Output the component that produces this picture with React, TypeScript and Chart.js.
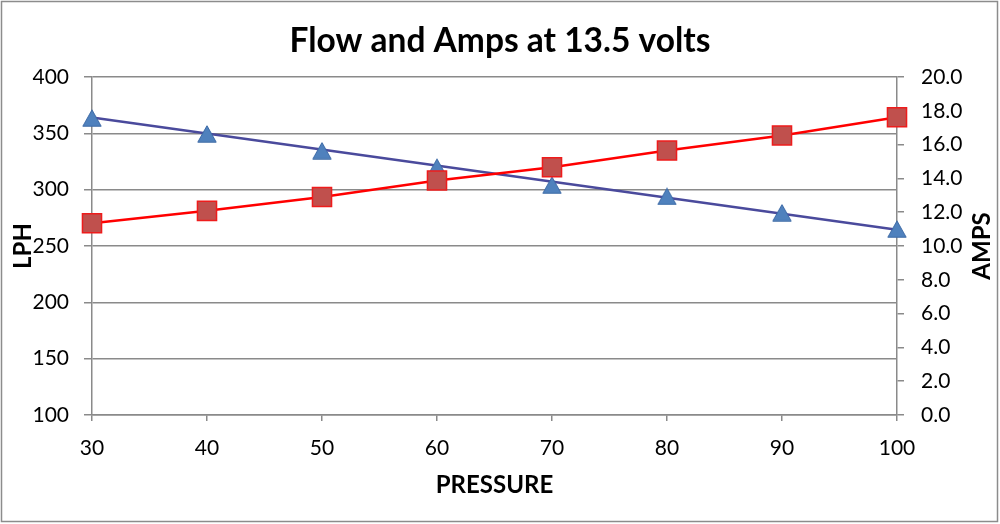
import React, { useEffect, useRef } from "react";
import { Chart, registerables } from "chart.js";

Chart.register(...registerables);

// ---- data ----
const pressure = [30, 40, 50, 60, 70, 80, 90, 100];
const lphValues = [363.5, 349.5, 334.5, 320, 304, 294, 279.5, 265];
const ampsValues = [11.35, 12.08, 12.9, 13.88, 14.66, 15.65, 16.54, 17.62];
const lphTrendPressure = [30, 100];
const lphTrendValues = [364, 264.5];
const lphTicks = { min: 100, max: 400, step: 50 };
const ampsTicks = { min: 0, max: 20, step: 2 };
const pressureTicks = { min: 30, max: 100, step: 10 };

const titleText = "Flow and Amps at 13.5 volts";
const xTitle = "PRESSURE";
const yTitle = "LPH";
const y1Title = "AMPS";

const FONT = "Lato";
const GRID = "#8a8a8a";

function makeTriangle(): HTMLCanvasElement {
  const c = document.createElement("canvas");
  const w = 20;
  const h = 18;
  c.width = w;
  c.height = h;
  const ctx = c.getContext("2d")!;
  ctx.beginPath();
  ctx.moveTo(w / 2, 0.8);
  ctx.lineTo(w - 0.8, h - 0.8);
  ctx.lineTo(0.8, h - 0.8);
  ctx.closePath();
  ctx.fillStyle = "#4f81bd";
  ctx.fill();
  ctx.strokeStyle = "#3d6aa6";
  ctx.lineWidth = 1;
  ctx.stroke();
  return c;
}

export default function App() {
  const ref = useRef<HTMLCanvasElement | null>(null);

  useEffect(() => {
    if (!ref.current) return;
    const tri = makeTriangle();

    const extras = {
      id: "extras",
      afterDraw(chart: any) {
        const ctx = chart.ctx as CanvasRenderingContext2D;
        ctx.save();
        // right axis title reading bottom-to-top
        ctx.translate(982.3, (chart.chartArea.top + chart.chartArea.bottom) / 2);
        ctx.rotate(-Math.PI / 2);
        ctx.font = `bold 24px ${FONT}`;
        ctx.fillStyle = "#000";
        ctx.textAlign = "center";
        ctx.textBaseline = "middle";
        ctx.fillText(y1Title, 0, 0);
        ctx.restore();
        // outer frame
        ctx.save();
        ctx.strokeStyle = "#8c8c8c";
        ctx.lineWidth = 1.5;
        ctx.strokeRect(1.5, 1.5, 996, 520);
        ctx.restore();
      },
    };

    const chart = new Chart(ref.current, {
      type: "line",
      data: {
        datasets: [
          {
            label: "AMPS",
            data: pressure.map((p, i) => ({ x: p, y: ampsValues[i] })),
            yAxisID: "y1",
            borderColor: "#ff0000",
            borderWidth: 2.5,
            backgroundColor: "#c0504d",
            pointStyle: "rect",
            pointRadius: 13.5,
            pointBorderColor: "#ee1c1c",
            pointBorderWidth: 1.5,
            pointBackgroundColor: "#c0504d",
            tension: 0,
            clip: false,
            order: 0,
          },
          {
            label: "LPH",
            data: pressure.map((p, i) => ({ x: p, y: lphValues[i] })),
            yAxisID: "y",
            showLine: false,
            pointStyle: tri,
            pointRadius: 10,
            borderColor: "#4f81bd",
            backgroundColor: "#4f81bd",
            clip: false,
            order: 1,
          },
          {
            label: "LPH trend",
            data: lphTrendPressure.map((p, i) => ({ x: p, y: lphTrendValues[i] })),
            yAxisID: "y",
            borderColor: "#4a4a9c",
            borderWidth: 2.5,
            pointRadius: 0,
            tension: 0,
            clip: false,
            order: 2,
          },
        ],
      },
      options: {
        animation: false,
        responsive: false,
        layout: { padding: 0 },
        plugins: {
          legend: { display: false },
          tooltip: { enabled: false },
          title: {
            display: true,
            text: titleText,
            color: "#000",
            font: { family: FONT, size: 33.5, weight: "bold", lineHeight: 1.2 },
            padding: { top: 21.2, bottom: 15.6 },
          },
        },
        scales: {
          x: {
            type: "linear",
            min: pressureTicks.min,
            max: pressureTicks.max,
            ticks: {
              stepSize: pressureTicks.step,
              color: "#000",
              font: { family: FONT, size: 21 },
              padding: 15,
              maxRotation: 0,
            },
            grid: {
              drawOnChartArea: false,
              drawTicks: true,
              tickLength: 6,
              color: GRID,
              lineWidth: 1.5,
            },
            border: { display: true, color: GRID, width: 1.5 },
            title: {
              display: true,
              text: xTitle,
              color: "#000",
              font: { family: FONT, size: 24, weight: "bold", lineHeight: 1.2 },
              padding: { top: 0, bottom: 24.3 },
            },
            afterFit(scale: any) {
              scale.height = 109;
            },
          },
          y: {
            type: "linear",
            position: "left",
            min: lphTicks.min,
            max: lphTicks.max,
            ticks: {
              stepSize: lphTicks.step,
              color: "#000",
              font: { family: FONT, size: 21 },
              padding: 15,
            },
            grid: {
              drawOnChartArea: true,
              drawTicks: true,
              tickLength: 8,
              color: GRID,
              lineWidth: 1.5,
            },
            border: { display: true, color: GRID, width: 1.5 },
            title: {
              display: true,
              text: yTitle,
              color: "#000",
              font: { family: FONT, size: 24, weight: "bold", lineHeight: 1.2 },
              padding: { top: 8.4, bottom: 0 },
            },
            afterFit(scale: any) {
              scale.width = 92;
            },
          },
          y1: {
            type: "linear",
            position: "right",
            min: ampsTicks.min,
            max: ampsTicks.max,
            ticks: {
              stepSize: ampsTicks.step,
              color: "#000",
              font: { family: FONT, size: 21 },
              padding: 17,
              callback: (v: any) => Number(v).toFixed(1),
            },
            grid: {
              drawOnChartArea: false,
              drawTicks: true,
              tickLength: 7,
              color: GRID,
              lineWidth: 1.5,
            },
            border: { display: true, color: GRID, width: 1.5 },
            title: { display: false },
            afterFit(scale: any) {
              scale.width = 103;
            },
          },
        },
      },
      plugins: [extras],
    } as any);

    return () => chart.destroy();
  }, []);

  return (
    <div
      style={{
        position: "fixed",
        left: 0,
        top: 0,
        width: 1000,
        height: 524,
        background: "#fff",
      }}
    >
      <canvas ref={ref} width={1000} height={524} style={{ width: 1000, height: 524, display: "block" }} />
    </div>
  );
}
